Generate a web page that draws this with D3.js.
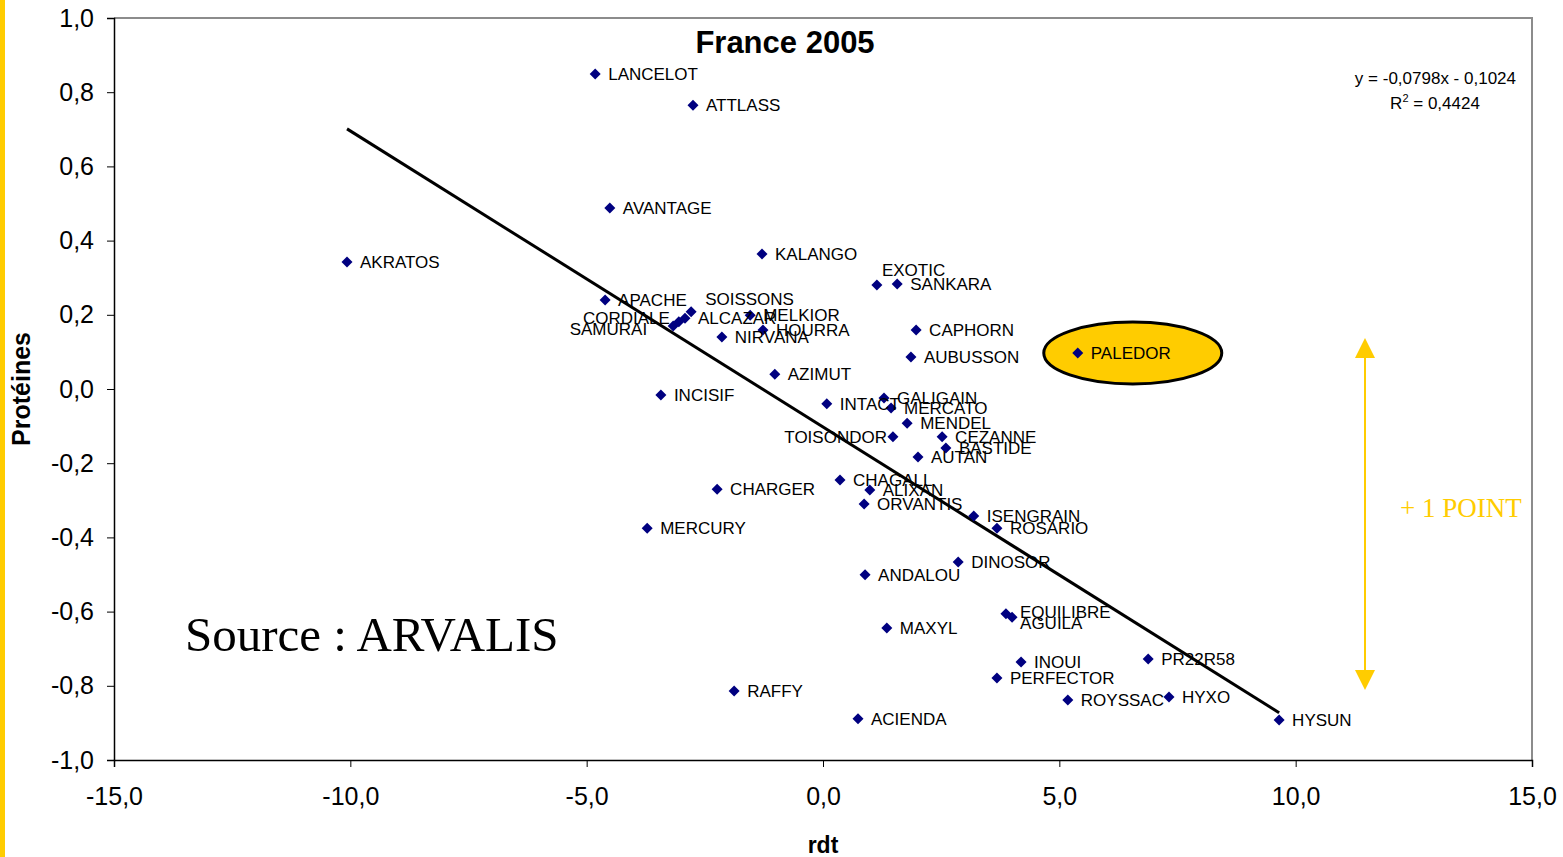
<!DOCTYPE html>
<html><head><meta charset="utf-8">
<script src="https://cdn.jsdelivr.net/npm/d3@7"></script>
<style>body{margin:0;background:#fff}svg{display:block}</style>
</head><body>
<svg id="c" width="1563" height="857"></svg>
<script>
const varieties = ["LANCELOT","ATTLASS","AVANTAGE","AKRATOS","KALANGO","EXOTIC","SANKARA","APACHE","SOISSONS","ALCAZAR","CORDIALE","SAMURAI","MELKIOR","HOURRA","NIRVANA","CAPHORN","AUBUSSON","PALEDOR","AZIMUT","INCISIF","INTACT","GALIGAIN","MERCATO","MENDEL","TOISONDOR","CEZANNE","BASTIDE","AUTAN","CHAGALL","ALIXAN","ORVANTIS","CHARGER","MERCURY","ISENGRAIN","ROSARIO","DINOSOR","ANDALOU","EQUILIBRE","AGUILA","MAXYL","INOUI","PR22R58","PERFECTOR","ROYSSAC","HYXO","RAFFY","ACIENDA","HYSUN"];
const rdt = [-4.82,-2.75,-4.51,-10.07,-1.29,1.14,1.57,-4.61,-2.79,-2.92,-3.05,-3.17,-1.54,-1.27,-2.14,1.97,1.86,5.39,-1.02,-3.43,0.08,1.29,1.44,1.78,1.48,2.52,2.60,2.01,0.36,0.99,0.87,-2.24,-3.72,3.19,3.68,2.86,0.89,3.87,4.00,1.35,4.19,6.88,3.68,5.18,7.32,-1.88,0.74,9.65];
const proteines = [0.849,0.765,0.488,0.342,0.364,0.280,0.283,0.240,0.208,0.191,0.181,0.170,0.199,0.159,0.140,0.159,0.086,0.097,0.040,-0.016,-0.040,-0.024,-0.051,-0.092,-0.129,-0.129,-0.159,-0.183,-0.245,-0.272,-0.310,-0.270,-0.375,-0.342,-0.375,-0.466,-0.501,-0.606,-0.615,-0.644,-0.736,-0.728,-0.779,-0.838,-0.830,-0.814,-0.889,-0.892];
const xTicks = [-15,-10,-5,0,5,10,15];
const yTicks = [-1,-0.8,-0.6,-0.4,-0.2,0,0.2,0.4,0.6,0.8,1];
const slope = -0.0798, intercept = -0.1024;
const highlighted = "PALEDOR";

const svg = d3.select("#c");
const x = d3.scaleLinear().domain([-15,15]).range([114,1532]);
const y = d3.scaleLinear().domain([-1,1]).range([760,18]);
const fmt = v => d3.format(".1f")(v).replace(".", ",").replace("−","-");
const SANS = "Liberation Sans, Arial, sans-serif", SERIF = "Liberation Serif, Times New Roman, serif";

// left yellow band
svg.append("rect").attr("x",0).attr("y",0).attr("width",5).attr("height",857).attr("fill","#FFCC00");

// frame (top/right gray)
svg.append("path").attr("d",`M114,18H1532V760`).attr("fill","none").attr("stroke","#8c8c8c").attr("stroke-width",2);

// axes
const xAxis = svg.append("g").attr("transform","translate(0,760)")
  .call(d3.axisBottom(x).tickValues(xTicks).tickFormat(fmt).tickSize(7).tickPadding(20));
const yAxis = svg.append("g").attr("transform","translate(114,0)")
  .call(d3.axisLeft(y).tickValues(yTicks).tickFormat(fmt).tickSize(7).tickPadding(13));
[xAxis,yAxis].forEach(a=>{
  a.select(".domain").attr("stroke","#000").attr("stroke-width",1.5);
  a.selectAll(".tick line").attr("stroke","#000").attr("stroke-width",1);
  a.selectAll("text").attr("font-family",SANS).attr("font-size",25).attr("fill","#000");
});

// trend line
const xmin = d3.min(rdt), xmax = d3.max(rdt);
svg.append("line").attr("x1",x(xmin)).attr("y1",y(slope*xmin+intercept))
  .attr("x2",x(xmax)).attr("y2",y(slope*xmax+intercept))
  .attr("stroke","#000").attr("stroke-width",3);

// highlight ellipse
const hi = varieties.indexOf(highlighted);
svg.append("ellipse").attr("cx",x(rdt[hi])+55).attr("cy",y(proteines[hi])).attr("rx",89).attr("ry",31)
  .attr("fill","#FFCC00").attr("stroke","#000").attr("stroke-width",3);

// points
const data = varieties.map((n,i)=>({n, x:rdt[i], y:proteines[i]}));
const labelOffsets = {
  EXOTIC:{dx:5,dy:-9,anchor:"start"},
  CORDIALE:{dx:-9,dy:2,anchor:"end"},
  SAMURAI:{dx:-26,dy:9,anchor:"end"},
  SOISSONS:{dx:14,dy:-7,anchor:"start"},
  TOISONDOR:{dx:-6,dy:6,anchor:"end"},
  EQUILIBRE:{dx:14,dy:4,anchor:"start"},
  AGUILA:{dx:8,dy:12,anchor:"start"}
};
svg.append("g").selectAll("path").data(data).join("path")
  .attr("d","M0,-5.5L5.5,0L0,5.5L-5.5,0Z").attr("fill","#000080")
  .attr("transform",d=>`translate(${x(d.x)},${y(d.y)})`);
svg.append("g").selectAll("text").data(data).join("text")
  .attr("x",d=>x(d.x)+(labelOffsets[d.n]?labelOffsets[d.n].dx:13))
  .attr("y",d=>y(d.y)+(labelOffsets[d.n]?labelOffsets[d.n].dy:6))
  .attr("text-anchor",d=>labelOffsets[d.n]?labelOffsets[d.n].anchor:"start")
  .attr("font-family",SANS).attr("font-size",17).attr("fill","#000")
  .text(d=>d.n);

// title
svg.append("text").attr("x",785).attr("y",53).attr("text-anchor","middle")
  .attr("font-family",SANS).attr("font-weight","bold").attr("font-size",31).text("France 2005");

// equation
svg.append("text").attr("x",1516).attr("y",84).attr("text-anchor","end")
  .attr("font-family",SANS).attr("font-size",17).text("y = -0,0798x - 0,1024");
const r2 = svg.append("text").attr("x",1435).attr("y",109).attr("text-anchor","middle")
  .attr("font-family",SANS).attr("font-size",17);
r2.append("tspan").text("R");
r2.append("tspan").attr("dy",-7).attr("font-size",11).text("2");
r2.append("tspan").attr("dy",7).text(" = 0,4424");

// axis titles
svg.append("text").attr("x",823).attr("y",853).attr("text-anchor","middle")
  .attr("font-family",SANS).attr("font-weight","bold").attr("font-size",23).text("rdt");
svg.append("text").attr("transform","translate(30,389) rotate(-90)").attr("text-anchor","middle")
  .attr("font-family",SANS).attr("font-weight","bold").attr("font-size",25).text("Protéines");

// source
svg.append("text").attr("x",185).attr("y",651)
  .attr("font-family",SERIF).attr("font-size",49).text("Source : ARVALIS");

// +1 point arrow
const ax = 1365, ay1 = 338, ay2 = 690;
svg.append("line").attr("x1",ax).attr("x2",ax).attr("y1",ay1+15).attr("y2",ay2-15).attr("stroke","#FFCC00").attr("stroke-width",2);
svg.append("path").attr("d",`M${ax},${ay1}L${ax+10},${ay1+20}L${ax-10},${ay1+20}Z`).attr("fill","#FFCC00");
svg.append("path").attr("d",`M${ax},${ay2}L${ax+10},${ay2-20}L${ax-10},${ay2-20}Z`).attr("fill","#FFCC00");
svg.append("text").attr("x",1400).attr("y",517)
  .attr("font-family",SERIF).attr("font-size",27).attr("fill","#FFCC00").text("+ 1 POINT");
</script>
</body></html>
